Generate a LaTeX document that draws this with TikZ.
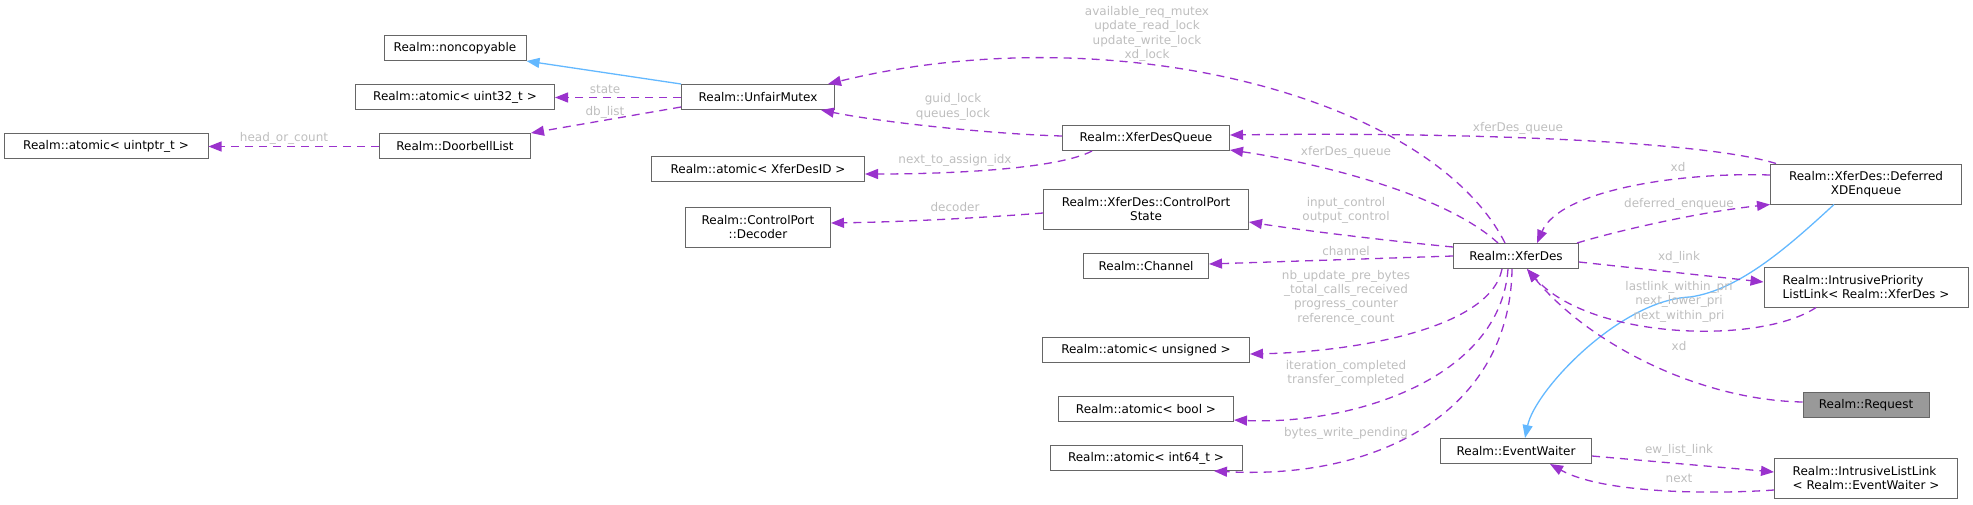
\documentclass[tikz,border=0pt]{standalone}
\usepackage{fontspec}
\setmainfont{DejaVu Sans}
\usepackage{tikz}
\usetikzlibrary{arrows.meta, positioning}
\definecolor{edgepurple}{HTML}{9A32CD}
\definecolor{edgeblue}{HTML}{63B8FF}
\definecolor{boxgray}{HTML}{666666}
\definecolor{lblgray}{HTML}{BEBEBE}
\definecolor{reqgray}{HTML}{999999}

\begin{document}
\begin{tikzpicture}[x=0.5pt, y=-0.5pt, font=\fontsize{6}{7.2}\selectfont,
                    >={Triangle[length=6.5pt,width=5pt]}]

\useasboundingbox (0,0) rectangle (1973,504);

\tikzset{
  clsbox/.style={draw=boxgray, line width=0.5pt, inner sep=0pt, minimum height=12.5pt},
  clsbox2/.style={clsbox, minimum height=20pt},
  member/.style={->, draw=edgepurple, line width=0.65pt, dash pattern=on 4pt off 3pt},
  inherit/.style={->, draw=edgeblue, line width=0.65pt},
  lbl/.style={text=lblgray, inner sep=0pt, align=center}
}

\node[clsbox, minimum width=71pt]    (ncp)  at (455,48)   {Realm::noncopyable};
\node[clsbox, minimum width=99.5pt]  (u32)  at (455,97)   {Realm::atomic< uint32\_t >};
\node[clsbox, minimum width=102pt]   (uptr) at (106,146)  {Realm::atomic< uintptr\_t >};
\node[clsbox, minimum width=75.5pt]  (door) at (455,146)  {Realm::DoorbellList};
\node[clsbox, minimum width=76.5pt]  (mutex) at (758,97)  {Realm::UnfairMutex};
\node[clsbox, minimum width=106.5pt] (xdid) at (758,169)  {Realm::atomic< XferDesID >};
\node[clsbox2, minimum width=72.5pt, align=center] (dec) at (758,227) {Realm::ControlPort\\::Decoder};
\node[clsbox, minimum width=83.5pt]  (queue) at (1146,138) {Realm::XferDesQueue};
\node[clsbox2, minimum width=102.5pt, align=center] (cps) at (1146,209) {Realm::XferDes::ControlPort\\State};
\node[clsbox, minimum width=62.5pt]  (ch)   at (1146,266) {Realm::Channel};
\node[clsbox, minimum width=103.5pt] (uns)  at (1146,350) {Realm::atomic< unsigned >};
\node[clsbox, minimum width=87.5pt]  (bool) at (1146,409) {Realm::atomic< bool >};
\node[clsbox, minimum width=96pt]    (i64)  at (1146,458) {Realm::atomic< int64\_t >};
\node[clsbox, minimum width=62.5pt]  (xd)   at (1516,256) {Realm::XferDes};
\node[clsbox, minimum width=75.5pt]  (ew)   at (1516,451) {Realm::EventWaiter};
\node[clsbox2, minimum width=95.5pt, align=center] (def) at (1866,184) {Realm::XferDes::Deferred\\XDEnqueue};
\node[clsbox2, minimum width=102pt, align=left] (prio) at (1866,287) {Realm::IntrusivePriority\\ListLink< Realm::XferDes >};
\node[clsbox, minimum width=63pt, fill=reqgray] (req) at (1866,405) {Realm::Request};
\node[clsbox2, minimum width=91.5pt, align=left] (ll) at (1866,478) {Realm::IntrusiveListLink\\< Realm::EventWaiter >};

% inheritance
\draw[inherit] (mutex.north west) -- (ncp.south east);
\draw[inherit] ([xshift=-16pt]def.south) .. controls (1790,245) and (1740,290) .. (1690,297)
               .. controls (1620,300) and (1535,390) .. ([xshift=4.5pt]ew.north);

% members
\draw[member] ([yshift=-0.25pt]mutex.west) -- ([yshift=-0.25pt]u32.east);
\draw[member] ([yshift=1.5pt]mutex.south west) -- (door.north east);
\draw[member] ([yshift=-0.25pt]door.west) -- ([yshift=-0.25pt]uptr.east);
\draw[member] ([xshift=-5.5pt]xd.north) .. controls (1430,95) and (1110,15) .. ([xshift=-3.5pt]mutex.north east);
\draw[member] ([yshift=1pt]queue.west) .. controls (990,134) and (880,122) .. ([xshift=-7pt]mutex.south east);
\draw[member] ([xshift=-27pt]queue.south) .. controls (1060,168) and (960,174) .. ([yshift=-2.5pt]xdid.east);
\draw[member] ([xshift=3pt]def.north west) .. controls (1700,140) and (1450,132) .. ([yshift=1.5pt]queue.east);
\draw[member] ([xshift=-9pt]xd.north) .. controls (1440,190) and (1300,160) .. ([yshift=-6pt]queue.east);
\draw[member] ([yshift=-2pt]cps.west) .. controls (980,218) and (900,222) .. ([yshift=2pt]dec.east);
\draw[member] ([yshift=4.5pt]xd.west) .. controls (1380,240) and (1300,230) .. ([yshift=-6.5pt]cps.east);
\draw[member] (xd.west) -- ([yshift=1pt]ch.east);
\draw[member] ([xshift=-7pt]xd.south) .. controls (1490,330) and (1350,352) .. ([yshift=-2pt]uns.east);
\draw[member] ([xshift=-4pt]xd.south) .. controls (1500,380) and (1350,425) .. ([yshift=-5.5pt]bool.east);
\draw[member] ([xshift=-2pt]xd.south) .. controls (1510,410) and (1380,480) .. ([xshift=34pt]i64.south);
\draw[member] ([yshift=4.5pt]def.west) .. controls (1680,172) and (1560,190) .. ([xshift=10.5pt]xd.north);
\draw[member] ([xshift=-1pt]xd.north east) .. controls (1620,230) and (1700,212) .. (def.south west);
\draw[member] ([yshift=-3pt]xd.east) -- ([yshift=2.5pt]prio.west);
\draw[member] ([xshift=-25pt]prio.south) .. controls (1760,345) and (1590,340) .. ([xshift=5.5pt]xd.south);
\draw[member] ([yshift=1.5pt]req.west) .. controls (1700,400) and (1590,345) .. ([xshift=5.5pt]xd.south);
\draw[member] ([yshift=-2.5pt]ew.east) -- ([yshift=3pt]ll.west);
\draw[member] ([yshift=-6pt]ll.west) .. controls (1700,495) and (1600,492) .. ([xshift=17pt]ew.south);

% labels
\node[lbl] (lstate) at (605,89)   {state};
\node[lbl] (ldb)    at (605,112)  {db\_list};
\node[lbl] (lhead)  at (284,138)  {head\_or\_count};
\node[lbl] (llocks) at (1147,34)  {available\_req\_mutex\\update\_read\_lock\\update\_write\_lock\\xd\_lock};
\node[lbl] (lguid)  at (953,107)  {guid\_lock\\queues\_lock};
\node[lbl] (lnext)  at (955,160)  {next\_to\_assign\_idx};
\node[lbl] (lxq1)   at (1518,128) {xferDes\_queue};
\node[lbl] (lxq2)   at (1346,152) {xferDes\_queue};
\node[lbl] (ldec)   at (955,207)  {decoder};
\node[lbl] (lctrl)  at (1346,210.5) {input\_control\\output\_control};
\node[lbl] (lch)    at (1346,251) {channel};
\node[lbl] (lcount) at (1346,297.5) {nb\_update\_pre\_bytes\\\_total\_calls\_received\\progress\_counter\\reference\_count};
\node[lbl] (ldone)  at (1346,373.5) {iteration\_completed\\transfer\_completed};
\node[lbl] (lbwp)   at (1346,433) {bytes\_write\_pending};
\node[lbl] (lxd1)   at (1678,167) {xd};
\node[lbl] (ldefq)  at (1679,204) {deferred\_enqueue};
\node[lbl] (lxdl)   at (1679,257) {xd\_link};
\node[lbl] (lpri)   at (1679,301.5) {lastlink\_within\_pri\\next\_lower\_pri\\next\_within\_pri};
\node[lbl] (lxd2)   at (1679,346) {xd};
\node[lbl] (lewl)   at (1679,450) {ew\_list\_link};
\node[lbl] (lnx)    at (1679,478) {next};

\end{tikzpicture}
\end{document}
